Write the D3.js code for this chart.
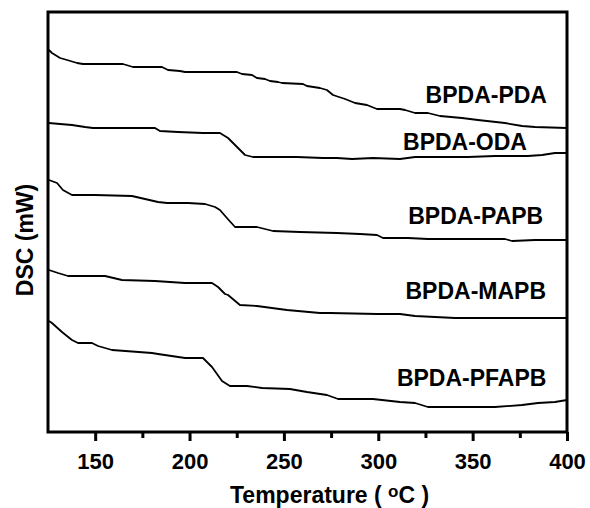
<!DOCTYPE html>
<html>
<head>
<meta charset="utf-8">
<script src="https://cdn.jsdelivr.net/npm/d3@7"></script>
<style>
  body { margin: 0; background: #fff; }
  text { font-family: "Liberation Sans", Arial, sans-serif; font-weight: bold; fill: #000; }
</style>
</head>
<body>
<div id="chart"></div>
<script>
// ---- data (temperature in °C, DSC in arbitrary mW offsets) ----
const seriesNames = ['BPDA-PDA', 'BPDA-ODA', 'BPDA-PAPB', 'BPDA-MAPB', 'BPDA-PFAPB'];

const pdaT = [125.5, 127.1, 131.4, 135.1, 140.4, 143.5, 164.7, 170.0, 185.4, 188.6, 194.9, 197.6, 225.1, 227.8, 233.1, 235.7, 240.0, 242.6, 246.9, 249.0, 260.1, 262.2, 269.1, 272.8, 276.0, 282.4, 287.7, 294.0, 299.3, 311.5, 314.2, 319.5, 326.3, 332.7, 344.4, 352.8, 367.1, 376.2, 383.0, 400];
const pdaY = [38.2, 37.9, 37.4, 37.2, 36.9, 36.8, 36.8, 36.5, 36.5, 36.2, 36.1, 36.0, 36.0, 35.8, 35.7, 35.4, 35.3, 35.1, 35.0, 34.9, 34.8, 34.6, 34.4, 34.2, 33.7, 33.3, 32.9, 32.7, 32.3, 32.3, 32.2, 31.9, 31.9, 31.6, 31.4, 31.2, 30.9, 30.6, 30.5, 30.4];

const odaT = [125.5, 131.4, 137.7, 144.6, 148.8, 181.7, 184.3, 193.9, 207.1, 216.1, 220.4, 224.1, 229.4, 233.6, 256.9, 270.7, 278.1, 286.1, 297.2, 311.5, 319.5, 333.8, 347.5, 361.8, 379.3, 386.8, 393.6, 400];
const odaY = [30.9, 30.8, 30.7, 30.5, 30.4, 30.4, 30.1, 30.0, 29.9, 29.9, 29.4, 28.7, 27.7, 27.5, 27.5, 27.4, 27.4, 27.3, 27.4, 27.3, 27.5, 27.5, 27.5, 27.6, 27.6, 27.7, 27.9, 27.9];

const papbT = [125.5, 129.8, 132.9, 137.7, 149.9, 169.5, 176.4, 183.3, 188.1, 199.2, 208.2, 213.5, 216.1, 219.8, 224.1, 235.7, 244.2, 258.5, 278.1, 290.3, 299.3, 302.5, 315.7, 326.3, 352.8, 367.1, 370.9, 383.0, 400];
const papbY = [25.2, 24.9, 24.2, 23.7, 23.7, 23.6, 23.3, 23.0, 22.9, 22.9, 22.8, 22.5, 22.2, 21.4, 20.5, 20.5, 20.1, 20.0, 19.9, 19.8, 19.7, 19.4, 19.4, 19.3, 19.3, 19.3, 19.1, 19.2, 19.2];

const mapbT = [125.5, 130.3, 135.6, 155.2, 164.2, 181.7, 197.6, 211.9, 215.1, 218.8, 220.4, 226.7, 235.7, 251.6, 269.1, 274.4, 299.3, 311.5, 319.5, 340.7, 400];
const mapbY = [16.2, 15.9, 15.6, 15.6, 15.2, 15.1, 14.9, 14.9, 14.5, 13.8, 13.7, 12.7, 12.6, 12.2, 11.9, 11.9, 11.8, 11.8, 11.6, 11.4, 11.4];

const pfapbT = [125.5, 127.1, 132.4, 137.7, 140.9, 148.3, 151.5, 158.9, 180.1, 183.3, 197.6, 207.1, 211.9, 217.2, 221.4, 230.4, 238.4, 253.2, 262.2, 272.8, 278.7, 297.2, 311.5, 319.5, 326.3, 344.4, 361.8, 376.2, 384.6, 393.6, 400];
const pfapbY = [11.1, 10.9, 10.0, 9.2, 8.9, 8.9, 8.6, 8.2, 7.9, 7.8, 7.4, 7.4, 6.5, 5.1, 4.6, 4.6, 4.4, 4.3, 4.0, 3.7, 3.3, 3.3, 3.0, 2.9, 2.5, 2.5, 2.5, 2.7, 2.9, 3.0, 3.2];

const majorTicks = [150, 200, 250, 300, 350, 400];
const minorTicks = [175, 225, 275, 325, 375];

// label anchors (right end, baseline) in data coords
const labelPos = [[389.4, 32.95], [378.8, 28.25], [387.4, 20.85], [388.9, 13.35], [389.1, 4.65]];

// ---- layout ----
const W = 590, H = 508;
const plot = { left: 48, right: 567, top: 12, bottom: 432 };

const svg = d3.select('#chart').append('svg')
  .attr('width', W)
  .attr('height', H);

const x = d3.scaleLinear().domain([125, 400]).range([plot.left, plot.right]);
const y = d3.scaleLinear().domain([0, 42]).range([plot.bottom, plot.top]);

const series = [
  [pdaT, pdaY], [odaT, odaY], [papbT, papbY], [mapbT, mapbY], [pfapbT, pfapbY]
].map(([ts, vs]) => ts.map((t, i) => ({ t, v: vs[i] })));

const line = d3.line().x(d => x(d.t)).y(d => y(d.v));

svg.append('g').selectAll('path')
  .data(series)
  .enter().append('path')
  .attr('d', line)
  .attr('fill', 'none')
  .attr('stroke', '#000')
  .attr('stroke-width', 1.8)
  .attr('stroke-linejoin', 'round');

// axes
const xMajor = svg.append('g')
  .attr('transform', `translate(0,${plot.bottom})`)
  .call(d3.axisBottom(x).tickValues(majorTicks).tickSize(9).tickPadding(12).tickFormat(d3.format('d')));
xMajor.select('.domain').remove();
xMajor.selectAll('line').attr('stroke', '#000').attr('stroke-width', 3);
xMajor.selectAll('text')
  .style('font-size', '22px')
  .style('font-family', '"Liberation Sans", Arial, sans-serif')
  .style('font-weight', 'bold');

const xMinor = svg.append('g')
  .attr('transform', `translate(0,${plot.bottom})`)
  .call(d3.axisBottom(x).tickValues(minorTicks).tickSize(6).tickFormat(''));
xMinor.select('.domain').remove();
xMinor.selectAll('line').attr('stroke', '#000').attr('stroke-width', 3);

// frame
svg.append('rect')
  .attr('x', plot.left)
  .attr('y', plot.top)
  .attr('width', plot.right - plot.left)
  .attr('height', plot.bottom - plot.top)
  .attr('fill', 'none')
  .attr('stroke', '#000')
  .attr('stroke-width', 3);

// series labels
svg.append('g').selectAll('text')
  .data(seriesNames)
  .enter().append('text')
  .attr('x', (d, i) => x(labelPos[i][0]))
  .attr('y', (d, i) => y(labelPos[i][1]))
  .attr('text-anchor', 'end')
  .style('font-size', '23px')
  .text(d => d);

// axis titles
const xt = svg.append('text')
  .attr('x', 230)
  .attr('y', 503)
  .style('font-size', '23px');
xt.append('tspan').text('Temperature ( ');
xt.append('tspan').attr('dy', -6).style('font-size', '17px').text('o');
xt.append('tspan').attr('dy', 6).text('C )');

svg.append('text')
  .attr('transform', 'translate(33,240) rotate(-90)')
  .attr('text-anchor', 'middle')
  .style('font-size', '23px')
  .text('DSC (mW)');
</script>
</body>
</html>
